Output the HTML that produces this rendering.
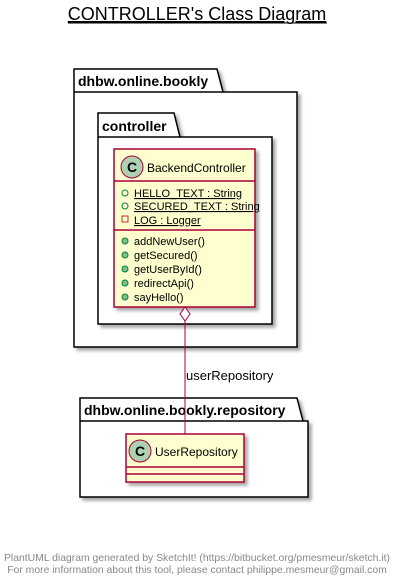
<!DOCTYPE html>
<html><head><meta charset="utf-8"><style>body{margin:0;background:#fff}svg{display:block}</style></head><body>
<svg width="405" height="584" xmlns="http://www.w3.org/2000/svg" font-family="Liberation Sans, sans-serif">
<defs><filter id="s" x="-10%" y="-10%" width="130%" height="130%"><feDropShadow dx="3" dy="3" stdDeviation="1.5" flood-color="#000" flood-opacity="0.35"/></filter></defs>
<text x="197" y="20" font-size="18" text-anchor="middle" text-decoration="underline">CONTROLLER's Class Diagram</text>
<line x1="68" y1="23" x2="327" y2="23" stroke="#000" stroke-width="1"/>
<g filter="url(#s)" fill="#fff" stroke="#000" stroke-width="1.5">
<path d="M74,92 L74,69 L217,69 L223,92 L297,92 L297,347 L74,347 Z"/>
</g>
<line x1="74" y1="92" x2="223" y2="92" stroke="#000" stroke-width="1.5"/>
<text x="78" y="86" font-size="14" font-weight="bold">dhbw.online.bookly</text>
<g filter="url(#s)" fill="#fff" stroke="#000" stroke-width="1.5">
<path d="M98,137 L98,113 L174,113 L180,137 L272,137 L272,324 L98,324 Z"/>
</g>
<line x1="98" y1="137" x2="180" y2="137" stroke="#000" stroke-width="1.5"/>
<text x="102" y="131" font-size="14" font-weight="bold">controller</text>
<rect x="114" y="149" width="141" height="158" fill="#FEFECE" stroke="#A80036" stroke-width="1.5" filter="url(#s)"/>
<line x1="114" y1="181" x2="255" y2="181" stroke="#A80036" stroke-width="1.5"/>
<line x1="114" y1="230" x2="255" y2="230" stroke="#A80036" stroke-width="1.5"/>
<circle cx="132" cy="167" r="11" fill="#ADD1B2" stroke="#A80036"/>
<text x="132" y="172" font-size="14" font-weight="bold" text-anchor="middle">C</text>
<text x="147" y="172" font-size="12">BackendController</text>
<g font-size="11">
<circle cx="125" cy="193" r="3" fill="none" stroke="#038048"/>
<text x="134" y="197" text-decoration="underline">HELLO_TEXT : String</text>
<circle cx="125" cy="206" r="3" fill="none" stroke="#038048"/>
<text x="134" y="210" text-decoration="underline">SECURED_TEXT : String</text>
<rect x="122" y="216" width="6" height="6" fill="none" stroke="#C82930"/>
<text x="134" y="224" text-decoration="underline">LOG : Logger</text>
<g fill="#84BE84" stroke="#038048"><circle cx="125" cy="241" r="3"/><circle cx="125" cy="255" r="3"/><circle cx="125" cy="269" r="3"/><circle cx="125" cy="283" r="3"/><circle cx="125" cy="297" r="3"/></g>
<text x="134" y="245">addNewUser()</text>
<text x="134" y="259">getSecured()</text>
<text x="134" y="273">getUserById()</text>
<text x="134" y="287">redirectApi()</text>
<text x="134" y="301">sayHello()</text>
</g>
<g filter="url(#s)" fill="#fff" stroke="#000" stroke-width="1.5">
<path d="M80,421 L80,398 L297,398 L303,421 L308,421 L308,497 L80,497 Z"/>
</g>
<line x1="80" y1="421" x2="303" y2="421" stroke="#000" stroke-width="1.5"/>
<text x="84" y="415" font-size="14" font-weight="bold">dhbw.online.bookly.repository</text>
<rect x="126" y="434" width="118" height="48" fill="#FEFECE" stroke="#A80036" stroke-width="1.5" filter="url(#s)"/>
<line x1="126" y1="467" x2="244" y2="467" stroke="#A80036" stroke-width="1.5"/>
<line x1="126" y1="474" x2="244" y2="474" stroke="#A80036" stroke-width="1.5"/>
<circle cx="140" cy="451" r="11" fill="#ADD1B2" stroke="#A80036"/>
<text x="140" y="456" font-size="14" font-weight="bold" text-anchor="middle">C</text>
<text x="155" y="456" font-size="12">UserRepository</text>
<line x1="185" y1="321" x2="185" y2="434" stroke="#A80036" stroke-width="1"/>
<path d="M185,307 L190,314 L185,321 L180,314 Z" fill="#fff" stroke="#A80036"/>
<text x="186" y="380" font-size="13">userRepository</text>
<g font-size="10.4" fill="#888" text-anchor="middle">
<text x="197" y="561">PlantUML diagram generated by SketchIt! (https://bitbucket.org/pmesmeur/sketch.it)</text>
<text x="197" y="573">For more information about this tool, please contact philippe.mesmeur@gmail.com</text>
</g>
</svg>
</body></html>
